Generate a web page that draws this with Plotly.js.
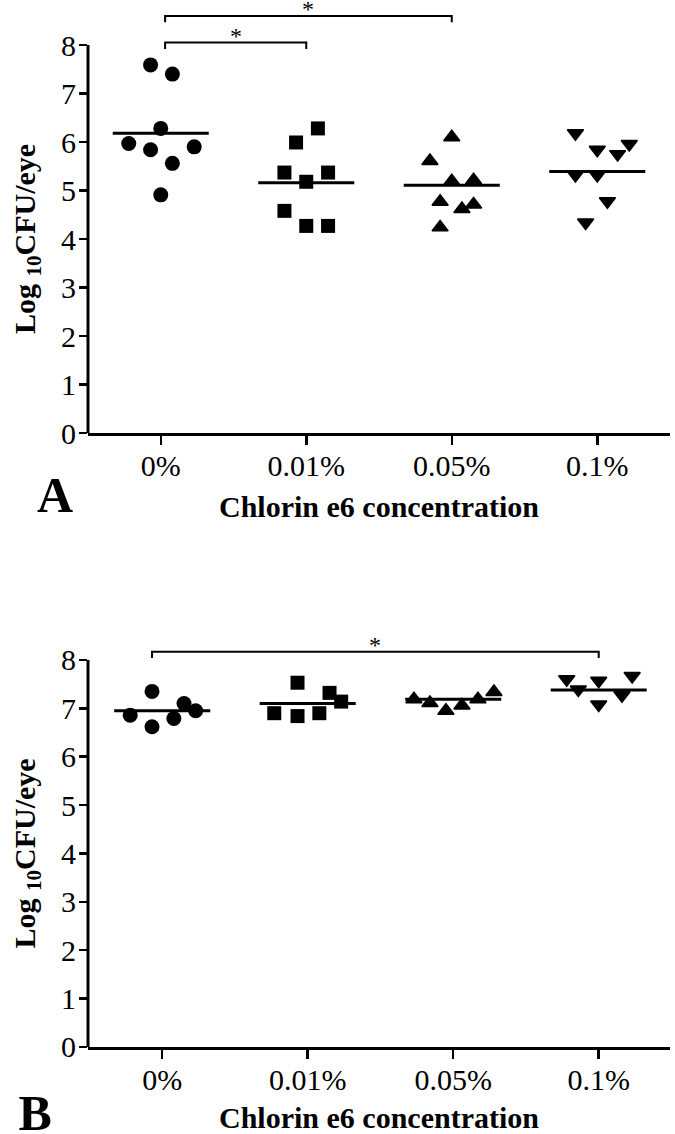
<!DOCTYPE html>
<html><head><meta charset="utf-8">
<script src="https://cdn.plot.ly/plotly-3.0.1.min.js"></script>
<style>body{margin:0;background:#fff}</style>
</head><body><div id="chart" style="width:675px;height:1134px"></div>
<script>
// ---------- data ----------
const categories = ['0%', '0.01%', '0.05%', '0.1%'];
const symbols = ['circle', 'square', 'triangle-up', 'triangle-down'];
const yTicks = [0, 1, 2, 3, 4, 5, 6, 7, 8];

// Panel A: log10 CFU/eye per eye
const a0 = [7.59, 7.40, 6.28, 5.97, 5.84, 5.90, 5.56, 4.91];
const a1 = [6.28, 5.99, 5.37, 5.37, 5.18, 4.58, 4.27, 4.27];
const a2 = [6.10, 5.61, 5.19, 5.21, 4.77, 4.62, 4.71, 4.24];
const a3 = [6.18, 5.84, 5.75, 5.96, 5.32, 5.32, 4.78, 4.34];
// horizontal scatter of the dots within each column (category units)
const a0j = [-0.07, 0.08, 0.00, -0.22, -0.07, 0.23, 0.08, 0.00];
const a1j = [0.08, -0.07, -0.15, 0.15, 0.00, -0.15, 0.00, 0.15];
const a2j = [0.00, -0.15, 0.00, 0.15, -0.08, 0.07, 0.15, -0.08];
const a3j = [-0.15, 0.00, 0.14, 0.22, -0.15, 0.00, 0.07, -0.08];
const aMeans = [6.18, 5.16, 5.11, 5.39];

// Panel B
const b0 = [7.35, 6.86, 6.62, 6.79, 7.10, 6.95];
const b1 = [7.53, 7.32, 7.14, 6.90, 6.84, 6.90];
const b2 = [7.19, 7.11, 6.95, 7.06, 7.19, 7.34];
const b3 = [7.60, 7.39, 7.57, 7.67, 7.27, 7.08];
const b0j = [-0.07, -0.22, -0.07, 0.08, 0.15, 0.23];
const b1j = [-0.07, 0.15, 0.23, -0.23, -0.07, 0.08];
const b2j = [-0.27, -0.16, -0.05, 0.06, 0.17, 0.28];
const b3j = [-0.22, -0.14, 0.00, 0.23, 0.16, 0.00];
const bMeans = [6.95, 7.10, 7.19, 7.38];

// significance brackets: [from category, to category, bar level]
const aBrackets = [[0.03, 1, 8.05], [0.03, 2, 8.60]];
const bBrackets = [[-0.07, 3, 8.17]];

const xTitle = 'Chlorin e6 concentration';
const yTitle = 'Log <sub>10</sub>CFU/eye';
const panelLabels = ['A', 'B'];

// ---------- build ----------
const FONT = 'Liberation Serif, Times New Roman, serif';
const traces = [];
const shapes = [];
const annotations = [];

function addPanel(values, jitters, means, brackets, xa, ya) {
  values.forEach((vals, i) => {
    traces.push({
      type: 'scatter', mode: 'markers', xaxis: xa, yaxis: ya,
      x: vals.map((v, k) => i + jitters[i][k]), y: vals,
      marker: {
        symbol: symbols[i], color: '#000',
        size: i >= 2 ? 14 : (i === 1 ? 14 : 15),
        line: {width: i >= 2 ? 1.5 : 0, color: '#000'}
      },
      cliponaxis: false, hoverinfo: 'y', showlegend: false
    });
    traces.push({
      type: 'scatter', mode: 'lines', xaxis: xa, yaxis: ya,
      x: [i - 0.33, i + 0.33], y: [means[i], means[i]],
      line: {color: '#000', width: 3}, hoverinfo: 'skip', showlegend: false
    });
  });
  // y axis line from 0 to 8 only
  shapes.push({type: 'line', xref: xa + ' domain', yref: ya, x0: 0, x1: 0,
    y0: 0, y1: yTicks[yTicks.length - 1], line: {color: '#000', width: 3}});
  brackets.forEach(b => {
    const drop = 0.13;
    shapes.push({type: 'path', xref: xa, yref: ya,
      path: `M ${b[0]},${b[2] - drop} L ${b[0]},${b[2]} L ${b[1]},${b[2]} L ${b[1]},${b[2] - drop}`,
      line: {color: '#000', width: 2}});
    annotations.push({xref: xa, yref: ya, x: (b[0] + b[1]) / 2, y: b[2],
      text: '*', showarrow: false, yanchor: 'bottom', yshift: -8,
      font: {family: FONT, size: 24, color: '#000'}});
  });
  // y axis title, centred on the 0-8 span
  annotations.push({xref: 'paper', yref: ya, x: -0.1048, y: 4, text: yTitle,
    textangle: -90, showarrow: false, xanchor: 'center', yanchor: 'middle',
    font: {family: FONT, size: 30, weight: 'bold', color: '#000'}});
}

addPanel([a0, a1, a2, a3], [a0j, a1j, a2j, a3j], aMeans, aBrackets, 'x', 'y');
addPanel([b0, b1, b2, b3], [b0j, b1j, b2j, b3j], bMeans, bBrackets, 'x2', 'y2');

const LABEL_FONT = {family: FONT, size: 50, weight: 'bold', color: '#000'};
annotations.push({xref: 'paper', yref: 'paper', x: -0.091, y: 0.5635, text: panelLabels[0],
  showarrow: false, font: LABEL_FONT});

function xAxis(range, anchor) {
  return {
    range: range, anchor: anchor,
    tickvals: [0, 1, 2, 3], ticktext: categories,
    showline: true, linecolor: '#000', linewidth: 3,
    ticks: 'outside', ticklen: 9, tickwidth: 2.5, tickcolor: '#000',
    ticklabelstandoff: -5,
    showgrid: false, zeroline: false,
    tickfont: {family: FONT, size: 30, color: '#000'},
    title: {text: xTitle, standoff: 16,
      font: {family: FONT, size: 30, weight: 'bold', color: '#000'}}
  };
}
function yAxis(range, domain, anchor) {
  return {
    range: range, domain: domain, anchor: anchor,
    tickvals: yTicks, showline: false,
    ticks: 'outside', ticklen: 8, tickwidth: 2.5, tickcolor: '#000',
    ticklabelstandoff: -3,
    showgrid: false, zeroline: false,
    tickfont: {family: FONT, size: 30, color: '#000'}
  };
}

const layout = {
  width: 675, height: 1134,
  margin: {l: 88, r: 5, t: 0, b: 0},
  paper_bgcolor: '#fff', plot_bgcolor: '#fff',
  // panel label "B" sits at the very bottom edge, drawn as the layout title
  title: {text: panelLabels[1], xref: 'container', yref: 'container',
    x: 0.052, y: 0.0194, xanchor: 'center', yanchor: 'middle', font: LABEL_FONT},
  xaxis: xAxis([-0.5, 3.5], 'y'),
  yaxis: yAxis([0, 8.928], [0.61817, 1], 'x'),
  xaxis2: xAxis([-0.51, 3.49], 'y2'),
  yaxis2: yAxis([0, 8.6], [0.07672, 0.4436], 'x2'),
  shapes: shapes,
  annotations: annotations
};

Plotly.newPlot('chart', traces, layout, {displayModeBar: false, staticPlot: true});
</script>
</body></html>
